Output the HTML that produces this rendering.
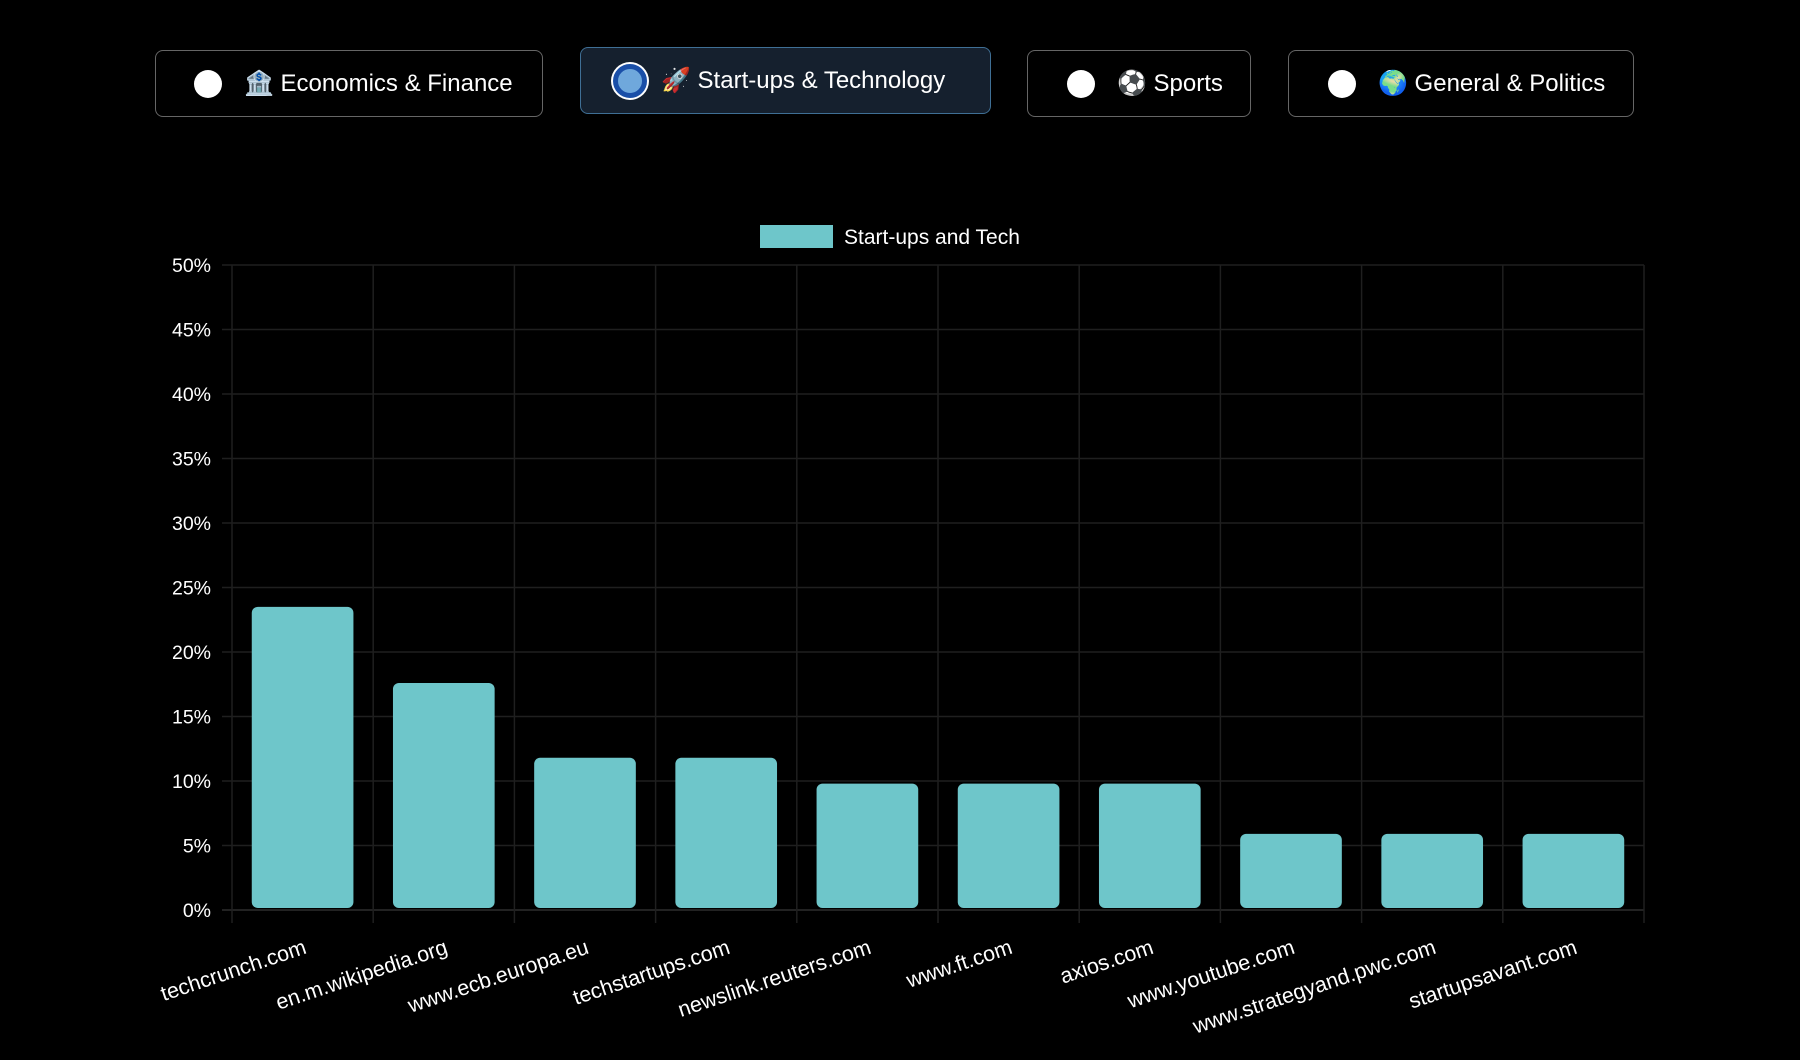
<!DOCTYPE html>
<html><head><meta charset="utf-8">
<style>
body{margin:0;width:1800px;height:1060px;background:#000;overflow:hidden;font-family:"Liberation Sans",sans-serif;color:#fff;position:relative}
.btn{position:absolute;box-sizing:border-box;border:1px solid #666;border-radius:8px;background:#000;display:flex;align-items:center;font-size:24px;color:#fff}
.btn.sel{background:#15202e;border-color:#3f6f95}
.radio{width:28px;height:28px;border-radius:50%;background:#fff;margin-right:22px;flex:none}
.radio.on{width:34px;height:34px;background:#6fa8dc;border:5px solid #1a4fa8;box-sizing:border-box;box-shadow:0 0 0 2px #fff}
</style></head><body>
<div class="btn" style="left:155px;top:50px;width:388px;height:67px;padding-left:38px"><span class="radio"></span><span>🏦 Economics &amp; Finance</span></div>
<div class="btn sel" style="left:580px;top:47px;width:411px;height:67px;padding-left:32px"><span class="radio on" style="margin-right:14px"></span><span>🚀 Start-ups &amp; Technology</span></div>
<div class="btn" style="left:1027px;top:50px;width:224px;height:67px;padding-left:39px"><span class="radio"></span><span>⚽ Sports</span></div>
<div class="btn" style="left:1288px;top:50px;width:346px;height:67px;padding-left:39px"><span class="radio"></span><span>🌍 General &amp; Politics</span></div>

<svg id="chart" width="1800" height="1060" style="position:absolute;left:0;top:0" xmlns="http://www.w3.org/2000/svg">
<g>
<rect x="760" y="225" width="73" height="23" fill="#6ec6ca"/>
<text x="844" y="244" font-size="21" fill="#fff" font-family="Liberation Sans, sans-serif">Start-ups and Tech</text>
</g>
</svg>
<script>
const categories=["techcrunch.com","en.m.wikipedia.org","www.ecb.europa.eu","techstartups.com","newslink.reuters.com","www.ft.com","axios.com","www.youtube.com","www.strategyand.pwc.com","startupsavant.com"];
const values=[23.5,17.6,11.8,11.8,9.8,9.8,9.8,5.9,5.9,5.9];
const yTicks=[0,5,10,15,20,25,30,35,40,45,50];
const svg=document.getElementById('chart');
const NS="http://www.w3.org/2000/svg";
const L=232,R=1644,T=265,B=910,yMax=50;
const cw=(R-L)/categories.length;
const y=v=>B-(v/yMax)*(B-T);
const x=i=>L+i*cw;
function mk(t,a){const e=document.createElementNS(NS,t);for(const k in a)e.setAttribute(k,a[k]);svg.appendChild(e);return e;}
yTicks.forEach(v=>{
  const g=mk('line',{x1:L-10,x2:R,y1:y(v),y2:y(v),stroke:v===0?'#2e2e2e':'#1f1f1f','stroke-width':1.5});
  
  
  const t=mk('text',{x:211,y:y(v)+7,'text-anchor':'end','font-size':19.5,fill:'#fff','font-family':'Liberation Sans, sans-serif'});
  t.textContent=v+'%';
  
  
});
for(let i=0;i<=categories.length;i++){
  const g=mk('line',{x1:x(i),x2:x(i),y1:T,y2:B+13,stroke:'#1f1f1f','stroke-width':1.5});
  
  
}
categories.forEach((c,i)=>{
  const bw=cw*0.72, bx=x(i)+(cw-bw)/2, top=y(values[i]);
  const b=mk('rect',{x:bx,y:top,width:bw,height:B-2-top,rx:6,fill:'#6ec6ca'});
  
  
  const cx=x(i)+cw/2+5;
  const t=mk('text',{x:cx,y:953,'text-anchor':'end','font-size':21.5,fill:'#fff','font-family':'Liberation Sans, sans-serif',transform:`rotate(-18.5 ${cx} 953)`});
  t.textContent=c;
  
  
});
</script>
</body></html>
